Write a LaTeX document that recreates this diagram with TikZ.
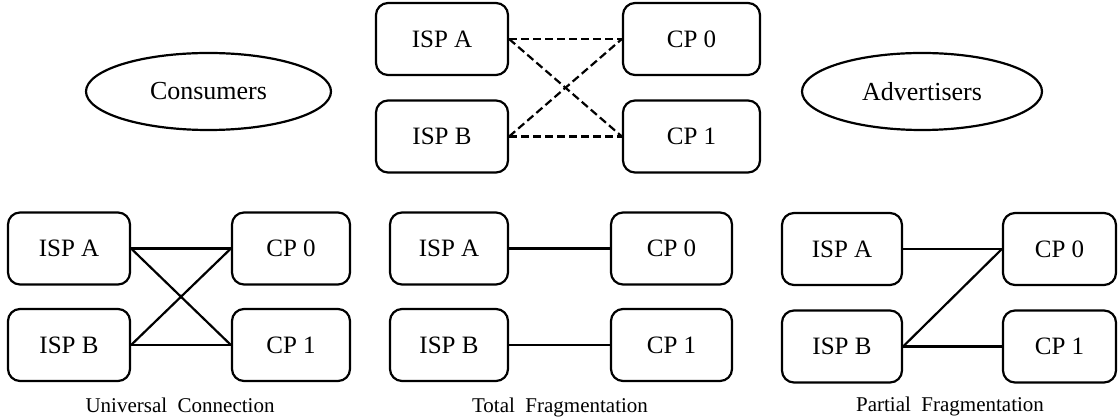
\documentclass[tikz,border=0pt]{standalone}
\usepackage{fontspec}
\setmainfont{Liberation Serif}
\usetikzlibrary{shapes.geometric}
\begin{document}
\begin{tikzpicture}[x=1pt,y=-1pt,
  box/.style={draw,line width=2.2pt,rounded corners=12pt,minimum height=72pt,inner sep=0pt,font=\fontsize{25}{30}\selectfont},
  oval/.style={draw,ellipse,line width=2.2pt,inner sep=0pt,minimum height=77pt,font=\fontsize{26}{31}\selectfont},
  link/.style={line width=2.2pt},
  dlink/.style={line width=2.2pt,dash pattern=on 8pt off 4pt},
  caption/.style={anchor=base,inner sep=0pt,font=\fontsize{21}{25}\selectfont}]
\useasboundingbox (0,0) rectangle (1118,419);
% ellipses
\node[oval,minimum width=245pt] (cons) at (208.5,91.5) {Consumers};
\node[oval,minimum width=240pt] (adv) at (922,91.5) {Advertisers};
% top group
\node[box,minimum width=132pt] (tA) at (442,39) {ISP A};
\node[box,minimum width=137pt] (t0) at (691.5,39) {CP 0};
\node[box,minimum width=132pt] (tB) at (442,136.5) {ISP B};
\node[box,minimum width=137pt] (t1) at (691.5,136.5) {CP 1};
\draw[dlink] (tA.east) -- (t0.west);
\draw[dlink] (tA.east) -- (t1.west);
\draw[dlink] (tB.east) -- (t0.west);
\draw[dlink] (tB.east) -- (t1.west);
% universal connection
\node[box,minimum width=122pt] (uA) at (69,248.5) {ISP A};
\node[box,minimum width=118pt] (u0) at (291,248.5) {CP 0};
\node[box,minimum width=122pt] (uB) at (69,345) {ISP B};
\node[box,minimum width=118pt] (u1) at (291,345) {CP 1};
\draw[link] (uA.east) -- (u0.west);
\draw[link] (uA.east) -- (u1.west);
\draw[link] (uB.east) -- (u0.west);
\draw[link] (uB.east) -- (u1.west);
\node[caption] (ucap) at (180,412) {Universal\ \ Connection};
% total fragmentation
\node[box,minimum width=118pt] (fA) at (449,248.5) {ISP A};
\node[box,minimum width=121pt] (f0) at (671.5,248.5) {CP 0};
\node[box,minimum width=118pt] (fB) at (449,345) {ISP B};
\node[box,minimum width=121pt] (f1) at (671.5,345) {CP 1};
\draw[link] (fA.east) -- (f0.west);
\draw[link] (fB.east) -- (f1.west);
\node[caption] (fcap) at (560,412) {Total\ \ Fragmentation};
% partial fragmentation
\node[box,minimum width=120pt] (pA) at (842,249) {ISP A};
\node[box,minimum width=113pt] (p0) at (1059.5,249) {CP 0};
\node[box,minimum width=120pt] (pB) at (842,346.5) {ISP B};
\node[box,minimum width=113pt] (p1) at (1059.5,346.5) {CP 1};
\draw[link] (pA.east) -- (p0.west);
\draw[link] (pB.east) -- (p0.west);
\draw[link] (pB.east) -- (p1.west);
\node[caption] (pcap) at (950,411) {Partial\ \ Fragmentation};
\end{tikzpicture}
\end{document}
